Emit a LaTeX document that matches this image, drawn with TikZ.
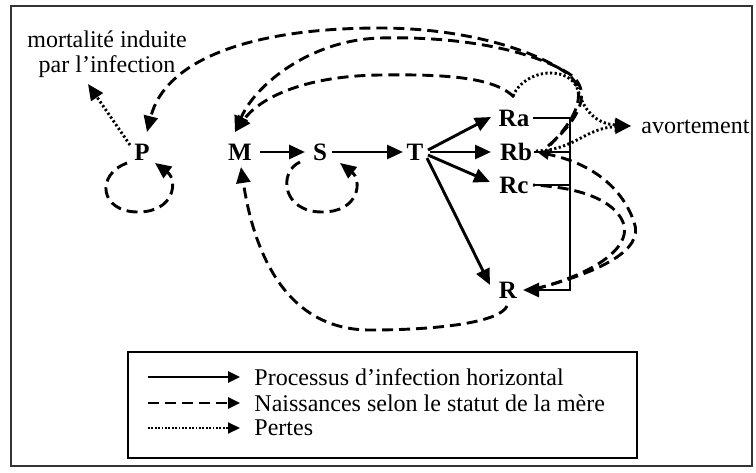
\documentclass[tikz,border=0pt]{standalone}
\usepackage{fontspec}
\setmainfont{Liberation Serif}
\usetikzlibrary{arrows.meta,calc}
\begin{document}
\begin{tikzpicture}[x=1pt,y=-1pt,line width=2.9pt,
  headarr/.style={-{Triangle[length=16pt,width=14pt]}},
  smallarr/.style={-{Triangle[length=12pt,width=10pt]}},
  legarr/.style={-{Triangle[length=12pt,width=11pt]},line width=2.5pt},
  dsh/.style={dash pattern=on 11pt off 6pt},
  dts/.style={dash pattern=on 2.2pt off 2.4pt},
  lbl/.style={font=\fontsize{25}{28}\selectfont\bfseries,inner sep=2pt},
  txt/.style={font=\fontsize{24}{24.5}\selectfont,inner sep=0pt}]
\useasboundingbox (0,0) rectangle (756,472);
\draw[line width=1.6pt,black!80] (11,6) rectangle (752,466);
% nodes
\node[lbl] (P)  at (142,152) {P};
\node[lbl] (M)  at (240,152) {M};
\node[lbl] (S)  at (320,152) {S};
\node[lbl] (T)  at (415,152) {T};
\node[lbl] (Ra) at (514,118) {Ra};
\node[lbl] (Rb) at (516,152) {Rb};
\node[lbl] (Rc) at (514,185) {Rc};
\node[lbl] (R)  at (508,290) {R};
\node[txt,align=center] (mort) at (107,54) {mortalité induite\\par l’infection};
\node[txt,anchor=west] (avo) at (640,127) {avortement};
% solid infection process
\draw[headarr] ($(M)+(20,0)$) -- ($(S)+(-15,0)$);
\draw[headarr] ($(S)+(12,0)$) -- ($(T)+(-12,0)$);
\draw[headarr] ($(T)+(13,-2)$) -- ($(Ra)+(-23,-1)$);
\draw[headarr] ($(T)+(15,0)$) -- ($(Rb)+(-25,0)$);
\draw[headarr] ($(T)+(13,3)$) -- ($(Rc)+(-24,-3)$);
\draw[headarr] ($(T)+(12,6)$) -- ($(R)+(-18,-5)$);
\draw[headarr] ($(Ra)+(19,0)$) -- ($(Ra)+(56,0)$) |- ($(R)+(15,0)$);
\draw ($(Rb)+(18,0)$) -- ($(Rb)+(54,0)$);
\draw ($(Rc)+(19,0)$) -- ($(Rc)+(56,0)$);
% births (dashed)
\draw[dsh,headarr] ($(P)+(-15,11)$) .. controls (95,175) and (100,212) .. (138,212)
   .. controls (175,212) and (178,180) .. ($(P)+(13,11)$);
\draw[dsh,headarr] ($(S)+(-20,10)$) .. controls (278,172) and (282,212) .. (322,212)
   .. controls (360,212) and (362,180) .. ($(S)+(20,11)$);
\draw[dsh,headarr] ($(R)+(-1,16)$) .. controls (500,322) and (440,330) .. (370,330)
   .. controls (290,330) and (255,260) .. ($(M)+(1,15)$);
\draw[dsh,headarr] ($(Rb)+(34,-7)$) .. controls (585,110) and (585,85) .. (565,72)
   .. controls (530,48) and (460,28) .. (380,28)
   .. controls (250,28) and (165,60) .. ($(P)+(5,-20)$);
\draw[dsh,headarr] ($(Rb)+(32,-6)$) .. controls (588,112) and (589,86) .. (568,73)
   .. controls (530,50) and (460,36) .. (380,38)
   .. controls (310,40) and (255,85) .. ($(M)+(-5,-20)$);
\draw[dsh,headarr] ($(Ra)+(0,-21)$) .. controls (495,78) and (450,74) .. (380,75)
   .. controls (300,76) and (258,100) .. ($(M)+(-5,-20)$);
\draw[dsh,smallarr] ($(R)+(27,-1)$) .. controls (600,272) and (645,250) .. (634,222)
   .. controls (625,195) and (600,165) .. ($(Rb)+(21,0)$);
\draw[dsh] ($(R)+(27,-1)$) .. controls (590,275) and (630,250) .. (624,225)
   .. controls (618,205) and (590,188) .. ($(Rc)+(19,0)$);
% losses (dotted)
\draw[dts,headarr] ($(P)+(-12,-7)$) -- ($(mort)+(-19,30)$);
\draw[dts,headarr] ($(Ra)+(-1,-22)$) .. controls (525,68) and (570,65) .. (578,90)
   .. controls (585,115) and (600,124) .. ($(avo.west)+(-9,-1)$);
\draw[dts,headarr] ($(Rb)+(20,-1)$) .. controls (575,150) and (585,128) .. ($(avo.west)+(-9,-1)$);
% legend
\draw[line width=1.6pt] (128,352) rectangle (637,458);
\node[txt,anchor=west] (l1) at (253,377) {Processus d’infection horizontal};
\node[txt,anchor=west] (l2) at (253,403) {Naissances selon le statut de la mère};
\node[txt,anchor=west] (l3) at (253,428) {Pertes};
\draw[legarr] ($(l1.west)+(-105,0)$) -- ($(l1.west)+(-13,0)$);
\draw[legarr,dsh] ($(l2.west)+(-105,0)$) -- ($(l2.west)+(-13,0)$);
\draw[legarr,dash pattern=on 1.8pt off 1.6pt,line width=2.1pt] ($(l3.west)+(-105,0)$) -- ($(l3.west)+(-13,0)$);
\end{tikzpicture}
\end{document}
